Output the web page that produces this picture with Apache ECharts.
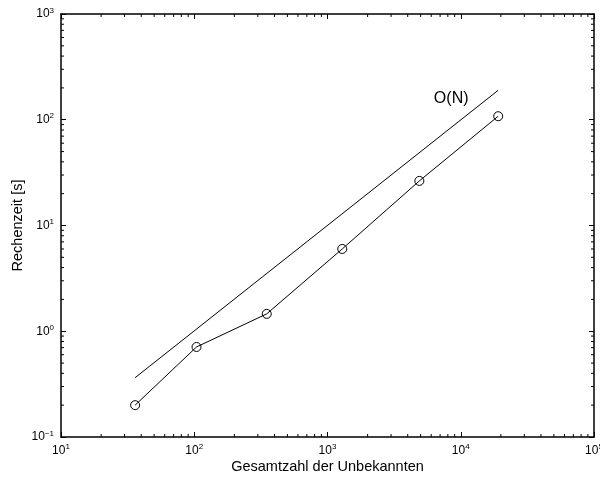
<!DOCTYPE html>
<html>
<head>
<meta charset="utf-8">
<script src="https://cdn.jsdelivr.net/npm/echarts@6/dist/echarts.min.js"></script>
<style>html,body{margin:0;padding:0;background:#fff}#chart{width:600px;height:480px}</style>
</head>
<body>
<div id="chart"></div>
<script>
// measured points
var unknowns = [36, 104, 350, 1290, 4890, 19100];
var times = [0.2, 0.71, 1.46, 6.0, 26.4, 108];
// reference O(N) line
var onX = [36, 19100];
var onY = [0.364, 190];

var xMin = 10, xMax = 100000;
var yMin = 0.1, yMax = 1000;

var minorX = [];
for (var d = xMin; d < xMax; d *= 10) {
    for (var k = 2; k <= 9; k++) minorX.push(d * k);
}
var minorY = [];
for (var d2 = yMin; d2 < yMax; d2 *= 10) {
    for (var k2 = 2; k2 <= 9; k2++) minorY.push(+(d2 * k2).toPrecision(3));
}

var chart = echarts.init(document.getElementById('chart'));
var font = 'Liberation Sans, Arial, Helvetica, sans-serif';

function powLabel(v) {
    var e = Math.round(Math.log10(v));
    return '10{sup|' + (e < 0 ? '\u2212' + (-e) : e) + '}';
}
var labelRich = {
    sup: { fontSize: 8, verticalAlign: 'top', padding: [0, 0, 7, 0], fontFamily: font, color: '#000' }
};

var tickLine = { show: true, inside: true, length: 5, lineStyle: { color: '#000', width: 1 } };
var axLine = { show: true, lineStyle: { color: '#000', width: 1.5 } };

var option = {
    backgroundColor: '#fff',
    animation: false,
    grid: { left: 61, top: 14, right: 6, bottom: 43, outerBoundsMode: 'none', containLabel: false },
    xAxis: [{
        type: 'log', min: xMin, max: xMax, logBase: 10,
        axisLine: axLine, axisTick: tickLine, splitLine: { show: false },
        axisLabel: { formatter: powLabel, rich: labelRich, color: '#000', fontSize: 12, fontFamily: font, margin: 6, showMaxLabel: true, hideOverlap: false },
        name: 'Gesamtzahl der Unbekannten', nameLocation: 'middle', nameGap: 22, nameMoveOverlap: false,
        nameTextStyle: { fontSize: 14.5, fontFamily: font, color: '#000' }
    }, {
        type: 'log', min: xMin, max: xMax, position: 'top',
        axisLine: axLine, axisTick: tickLine, splitLine: { show: false }, axisLabel: { show: false }
    }],
    yAxis: [{
        type: 'log', min: yMin, max: yMax, logBase: 10,
        axisLine: axLine, axisTick: tickLine, splitLine: { show: false },
        axisLabel: { formatter: powLabel, rich: labelRich, color: '#000', fontSize: 12, fontFamily: font, margin: 7 },
        name: 'Rechenzeit [s]', nameLocation: 'middle', nameGap: 36, nameMoveOverlap: false,
        nameTextStyle: { fontSize: 14.5, fontFamily: font, color: '#000' }
    }, {
        type: 'log', min: yMin, max: yMax, position: 'right',
        axisLine: axLine, axisTick: tickLine, splitLine: { show: false }, axisLabel: { show: false }
    }],
    series: [{
        name: 'O(N)', type: 'line', silent: true,
        data: onX.map(function (x, i) { return [x, onY[i]]; }),
        symbol: 'none', lineStyle: { color: '#000', width: 1 },
        markPoint: {
            symbol: 'rect', symbolSize: 1,
            itemStyle: { color: 'rgba(0,0,0,0)' },
            data: [{ coord: [onX[1], onY[1]], value: 'O(N)' }],
            label: { show: true, position: 'inside', formatter: 'O(N)', fontSize: 16, fontFamily: font, color: '#000', offset: [-47, 8] }
        }
    }, {
        name: 'Rechenzeit', type: 'line', silent: true,
        data: unknowns.map(function (x, i) { return [x, times[i]]; }),
        symbol: 'circle', symbolSize: 9,
        itemStyle: { color: 'rgba(0,0,0,0)', borderColor: '#000', borderWidth: 1 },
        lineStyle: { color: '#000', width: 1 }
    }, {
        // minor ticks along x
        type: 'custom', silent: true,
        data: minorX.map(function (v) { return [v, yMin]; }),
        renderItem: function (params, api) {
            var cs = params.coordSys;
            var p = api.coord([api.value(0), yMin]);
            return { type: 'group', children: [
                { type: 'line', shape: { x1: p[0], y1: cs.y + cs.height, x2: p[0], y2: cs.y + cs.height - 3 }, style: { stroke: '#000', lineWidth: 1 } },
                { type: 'line', shape: { x1: p[0], y1: cs.y, x2: p[0], y2: cs.y + 3 }, style: { stroke: '#000', lineWidth: 1 } }
            ] };
        }
    }, {
        // minor ticks along y
        type: 'custom', silent: true,
        data: minorY.map(function (v) { return [xMin, v]; }),
        renderItem: function (params, api) {
            var cs = params.coordSys;
            var p = api.coord([xMin, api.value(1)]);
            return { type: 'group', children: [
                { type: 'line', shape: { x1: cs.x, y1: p[1], x2: cs.x + 3, y2: p[1] }, style: { stroke: '#000', lineWidth: 1 } },
                { type: 'line', shape: { x1: cs.x + cs.width, y1: p[1], x2: cs.x + cs.width - 3, y2: p[1] }, style: { stroke: '#000', lineWidth: 1 } }
            ] };
        }
    }]
};
chart.setOption(option);
</script>
</body>
</html>
